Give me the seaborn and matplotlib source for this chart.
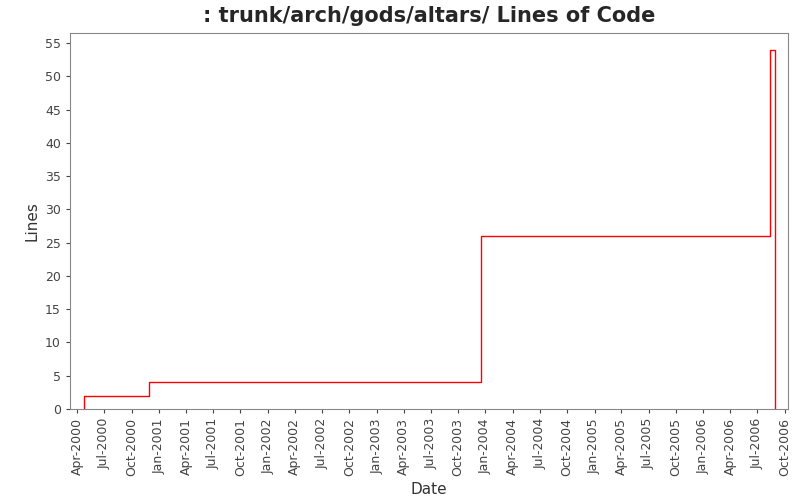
import pandas as pd
import matplotlib.pyplot as plt
import matplotlib.dates as mdates
import seaborn as sns

# step points of lines-of-code history
dates = ["2000-04-24", "2000-04-25", "2000-11-28", "2003-12-18", "2006-08-14", "2006-08-28"]
lines = [0, 2, 4, 26, 54, 0]
y_ticks = list(range(0, 60, 5))

df = pd.DataFrame({"Date": pd.to_datetime(dates), "Lines": lines})

sns.set_style("white")
fig, ax = plt.subplots(figsize=(8, 5), dpi=100)
fig.subplots_adjust(left=0.0875, right=0.985, top=0.934, bottom=0.182)

sns.lineplot(data=df, x="Date", y="Lines", ax=ax, color="red", linewidth=1,
             drawstyle="steps-post")

ax.set_xlim(pd.Timestamp("2000-03-08"), pd.Timestamp("2006-10-12"))
ax.set_ylim(0, 56.5)
ax.set_yticks(y_ticks)
ax.xaxis.set_major_locator(mdates.MonthLocator(bymonth=[1, 4, 7, 10]))
ax.xaxis.set_major_formatter(mdates.DateFormatter("%b-%Y"))
plt.setp(ax.get_xticklabels(), rotation=90)
ax.tick_params(axis="both", labelsize=9, colors="#444444", length=3, left=True, bottom=True)
for s in ax.spines.values():
    s.set_color("#888888")
    s.set_linewidth(0.8)

ax.set_xlabel("Date", fontsize=11, color="#333333")
ax.set_ylabel("Lines", fontsize=11, color="#333333")
ax.set_title(": trunk/arch/gods/altars/ Lines of Code", fontsize=15, fontweight="bold", pad=8)

plt.savefig("out.png")
